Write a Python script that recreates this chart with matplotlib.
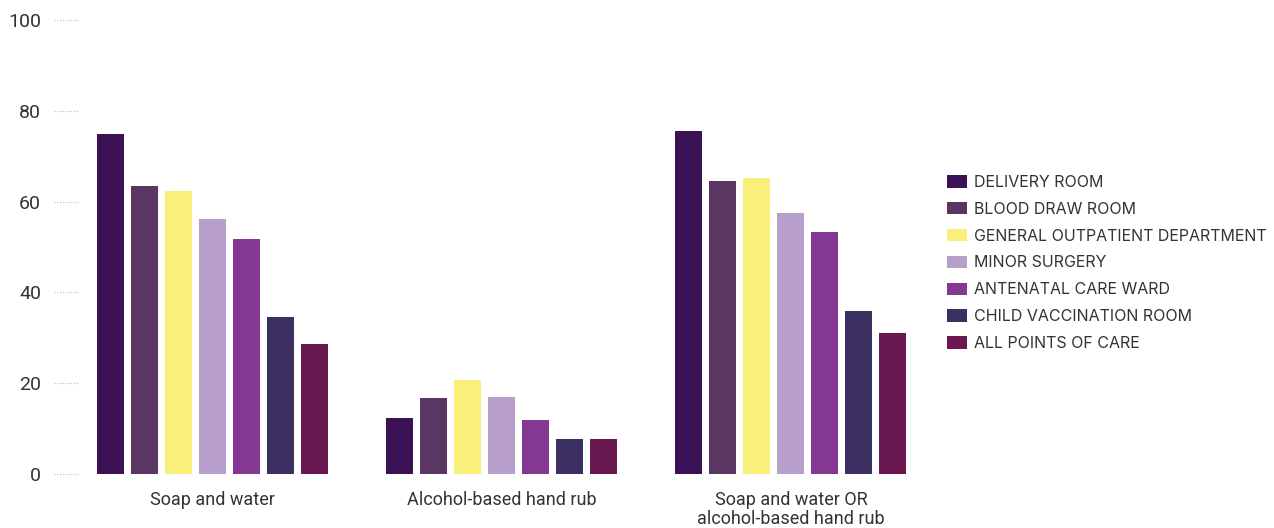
import numpy as np
import matplotlib.pyplot as plt
from matplotlib.patches import Patch
from matplotlib.transforms import blended_transform_factory

groupes = ['Soap and water', 'Alcohol-based hand rub', 'Soap and water OR\nalcohol-based hand rub']
lieux = ['DELIVERY ROOM', 'BLOOD DRAW ROOM', 'GENERAL OUTPATIENT DEPARTMENT', 'MINOR SURGERY',
         'ANTENATAL CARE WARD', 'CHILD VACCINATION ROOM', 'ALL POINTS OF CARE']
couleurs = ['#3c1256', '#5a3662', '#f8f07a', '#b89eca', '#843894', '#3b3060', '#6a1850']

delivery = [74.9, 12.4, 75.5]
blood = [63.4, 16.7, 64.6]
outpatient = [62.4, 20.7, 65.3]
surgery = [56.1, 17.0, 57.5]
antenatal = [51.8, 11.9, 53.3]
vaccination = [34.6, 7.8, 35.9]
all_points = [28.6, 7.6, 31.1]
series = [delivery, blood, outpatient, surgery, antenatal, vaccination, all_points]

yticks = [0, 20, 40, 60, 80, 100]

plt.rcParams['font.family'] = ['Roboto', 'DejaVu Sans']

fig = plt.figure(figsize=(12.74, 5.28), dpi=100)
ax = fig.add_axes([80/1274, 1-474/528, 845/1274, 454/528])

x = np.arange(len(groupes))
pas = 34/289
larg = 27/289
for k, (vals, c) in enumerate(zip(series, couleurs)):
    ax.bar(x + (k-3)*pas, vals, larg, color=c, edgecolor='none')

ax.set_xlim(-0.46, 2.464)
ax.set_ylim(0, 100)
for s in ax.spines.values():
    s.set_visible(False)

ax.set_yticks(yticks)
ax.set_yticklabels([str(v) for v in yticks], fontsize=14, color='#333333')
ax.tick_params(axis='y', length=0, pad=28)
# petits traits pointillés à gauche
trans = blended_transform_factory(ax.transAxes, ax.transData)
for v in yticks:
    ax.plot([-26/845, -2/845], [v, v], transform=trans, clip_on=False,
            color='#bbbbbb', lw=0.8, ls=(0, (1, 1.5)))

ax.set_xticks(x)
ax.set_xticklabels(groupes, fontsize=13, color='#333333', linespacing=1.1)
ax.tick_params(axis='x', length=0, pad=12)

handles = [Patch(facecolor=c, edgecolor='none') for c in couleurs]
leg = fig.legend(handles, lieux, loc='center left', bbox_to_anchor=(939/1274, 1-263/528),
                 frameon=False, fontsize=11.5, handlelength=1.25, handleheight=0.8,
                 handletextpad=0.45, labelspacing=0.74, borderpad=0)
for t in leg.get_texts():
    t.set_color('#333333')
    t.set_fontfamily(['Inter', 'DejaVu Sans'])

fig.savefig('out.png', dpi=100)
